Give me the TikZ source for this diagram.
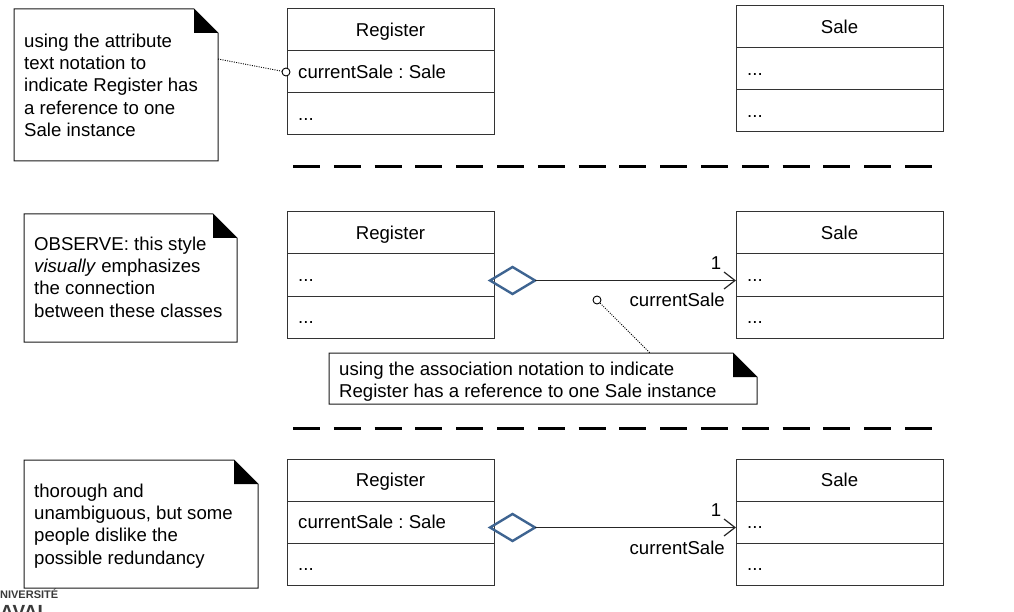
\documentclass[tikz,border=0pt]{standalone}
\usepackage{fontspec}
\setmainfont{Liberation Sans}
\usetikzlibrary{arrows.meta,shapes.geometric,calc}
\definecolor{boxline}{HTML}{333333}
\definecolor{diablue}{HTML}{3E6491}
\definecolor{logogray}{HTML}{3A3A3A}
\tikzset{
  comp/.style={draw=boxline, line width=1pt, rectangle, minimum width=207pt, minimum height=42pt, inner sep=0pt, outer sep=0pt, anchor=north west},
  ctext/.style={font=\fontsize{18.6}{22.3}\selectfont, text height=13.4pt, text depth=0pt, inner sep=0pt},
  notearea/.style={rectangle, inner sep=0pt, outer sep=0pt, anchor=north west},
  notetext/.style={font=\fontsize{18.6}{22.3}\selectfont, align=left, inner sep=0pt, anchor=north west},
  noteline/.style={draw=black!90, line width=1pt},
  conn/.style={line width=0.9pt, dash pattern=on 1pt off 1.3pt},
  pin/.style={circle, draw=black, line width=0.9pt, fill=white, minimum size=8pt, inner sep=0pt},
  aggr/.style={diamond, draw=diablue, line width=2.4pt, minimum width=45pt, minimum height=27pt, aspect=1.667, inner sep=0pt, outer sep=0pt},
  assoc/.style={draw=black!85, line width=1.2pt, -{Straight Barb[length=11pt,width=17pt,line width=1.2pt]}},
  sep/.style={line width=3pt, dash pattern=on 27pt off 13.8pt},
}
\newcommand\notefold[2]{%
  \draw[noteline] (#1.north west) -- ([xshift=-#2]#1.north east) -- ([yshift=-#2]#1.north east) -- (#1.south east) -- (#1.south west) -- cycle;
  \fill[black] ([xshift=-#2]#1.north east) -- ([xshift=-#2,yshift=-#2]#1.north east) -- ([yshift=-#2]#1.north east) -- cycle;
}
\begin{document}
\frenchspacing
\begin{tikzpicture}[x=1pt,y=-1pt]
\useasboundingbox (0,0) rectangle (1014,612);
\clip (0,0) rectangle (1014,612);

% ---------- Section 1 ----------
\node[notearea, minimum width=204pt, minimum height=152pt] (n1) at (14,9) {};
\notefold{n1}{24pt}
\node[notetext] (n1t) at (24,33.5) {using the attribute\\text notation to\\indicate Register has\\a reference to one\\Sale instance};

\node[comp] (r1h) at (287,9) {};
\node[comp] (r1a) at (r1h.south west) {};
\node[comp] (r1o) at (r1a.south west) {};
\node[ctext] (r1t) at (r1h.center) {Register};
\node[ctext, anchor=west] (r1x) at ([xshift=11pt]r1a.west) {currentSale : Sale};
\node[ctext, anchor=west] (r1y) at ([xshift=11pt]r1o.west) {...};

\node[comp] (s1h) at (736,6) {};
\node[comp] (s1a) at (s1h.south west) {};
\node[comp] (s1o) at (s1a.south west) {};
\node[ctext] (s1t) at (s1h.center) {Sale};
\node[ctext, anchor=west] (s1x) at ([xshift=11pt]s1a.west) {...};
\node[ctext, anchor=west] (s1y) at ([xshift=11pt]s1o.west) {...};

\node[pin] (c1) at (286,72) {};
\draw[conn] ([yshift=-50pt]n1.north east) -- (c1);

\draw[sep] (293,167) -- (932,167);

% ---------- Section 2 ----------
\node[notearea, minimum width=213pt, minimum height=128pt] (n2) at (24,214) {};
\notefold{n2}{24pt}
\node[notetext] (n2t) at (34,236.5) {OBSERVE: this style\\\textit{visually} emphasizes\\the connection\\between these classes};

\node[comp] (r2h) at (287,212) {};
\node[comp] (r2a) at (r2h.south west) {};
\node[comp] (r2o) at (r2a.south west) {};
\node[ctext] (r2t) at (r2h.center) {Register};
\node[ctext, anchor=west] (r2x) at ([xshift=11pt]r2a.west) {...};
\node[ctext, anchor=west] (r2y) at ([xshift=11pt]r2o.west) {...};

\node[comp] (s2h) at (736,212) {};
\node[comp] (s2a) at (s2h.south west) {};
\node[comp] (s2o) at (s2a.south west) {};
\node[ctext] (s2t) at (s2h.center) {Sale};
\node[ctext, anchor=west] (s2x) at ([xshift=11pt]s2a.west) {...};
\node[ctext, anchor=west] (s2y) at ([xshift=11pt]s2o.west) {...};

\node[aggr] (d2) at (512.5,280.5) {};
\draw[assoc] (d2.east) -- (d2.east -| s2a.west);
\node[ctext] (m2) at (716,263) {1};
\node[ctext, anchor=east] (l2) at (725,300) {currentSale};

\node[notearea, minimum width=428pt, minimum height=51pt] (n4) at (329,353) {};
\notefold{n4}{24pt}
\node[notetext] (n4t) at (339,361.5) {using the association notation to indicate\\Register has a reference to one Sale instance};
\node[pin] (c2) at (597,300) {};
\draw[conn] (c2) -- ($(n4.north west)+(321,0)$);

\draw[sep] (293,428) -- (932,428);

% ---------- Section 3 ----------
\node[notearea, minimum width=234pt, minimum height=128pt] (n3) at (24,460) {};
\notefold{n3}{24pt}
\node[notetext] (n3t) at (34,483.5) {thorough and\\unambiguous, but some\\people dislike the\\possible redundancy};

\node[comp] (r3h) at (287,459) {};
\node[comp] (r3a) at (r3h.south west) {};
\node[comp] (r3o) at (r3a.south west) {};
\node[ctext] (r3t) at (r3h.center) {Register};
\node[ctext, anchor=west] (r3x) at ([xshift=11pt]r3a.west) {currentSale : Sale};
\node[ctext, anchor=west] (r3y) at ([xshift=11pt]r3o.west) {...};

\node[comp] (s3h) at (736,459) {};
\node[comp] (s3a) at (s3h.south west) {};
\node[comp] (s3o) at (s3a.south west) {};
\node[ctext] (s3t) at (s3h.center) {Sale};
\node[ctext, anchor=west] (s3x) at ([xshift=11pt]s3a.west) {...};
\node[ctext, anchor=west] (s3y) at ([xshift=11pt]s3o.west) {...};

\node[aggr] (d3) at (512.5,527.5) {};
\draw[assoc] (d3.east) -- (d3.east -| s3a.west);
\node[ctext] (m3) at (716,510) {1};
\node[ctext, anchor=east] (l3) at (725,548) {currentSale};

% ---------- logo (cut off at the page edge, as in the reference) ----------
\node[font=\bfseries\fontsize{11}{11}\selectfont, text=logogray, inner sep=0pt, anchor=base west] (lg1) at (-8,598) {UNIVERSITÉ};
\node[font=\bfseries\fontsize{19}{19}\selectfont, text=logogray, inner sep=0pt, anchor=base west] (lg2) at (-11.6,618) {LAVAL};
\end{tikzpicture}
\end{document}
